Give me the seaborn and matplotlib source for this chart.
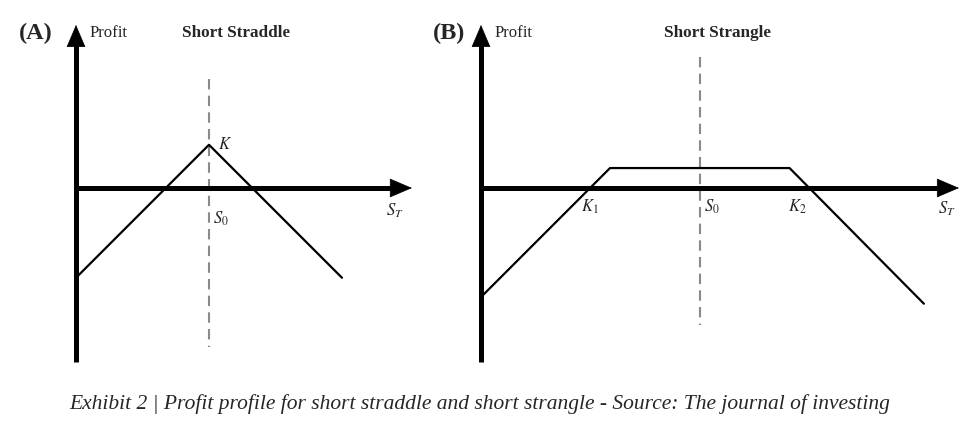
import matplotlib
matplotlib.use("Agg")
import matplotlib.pyplot as plt
import numpy as np
import pandas as pd
import seaborn as sns

# payoff vertices (S_T, profit) for each strategy
straddle_st = [0, 100, 200]
straddle_profit = [-67.5, 32.5, -67.5]
straddle_s0 = 100

strangle_st = [0, 97, 232, 333]
strangle_profit = [-82, 15, 15, -87]
strangle_s0 = 164.5

caption = ("Exhibit 2 | Profit profile for short straddle and short strangle"
           " - Source: The journal of investing")

sns.set_style("white")
plt.rcParams['font.family'] = ['Liberation Serif', 'DejaVu Serif']
plt.rcParams['mathtext.fontset'] = 'stix'

W, H = 980, 434
fig = plt.figure(figsize=(W / 100, H / 100), dpi=100)
SC = 1.33  # px per data unit


def px(x, y):
    return x / W, 1 - y / H


def make_axes(box, origin):
    x0, y0, x1, y1 = box
    ax = fig.add_axes([x0 / W, 1 - y1 / H, (x1 - x0) / W, (y1 - y0) / H])
    ax.set_xlim((x0 - origin[0]) / SC, (x1 - origin[0]) / SC)
    ax.set_ylim((origin[1] - y1) / SC, (origin[1] - y0) / SC)
    ax.axis('off')
    return ax


def draw_frame(ax, x_end, y_top=122.6, y_bot=-130.8):
    head = dict(arrowstyle='-|>,head_length=0.75,head_width=0.32', lw=0.5,
                color='black', mutation_scale=20, shrinkA=0, shrinkB=0)
    ax.plot([0, 0], [y_bot, y_top - 6], color='black', lw=3.6,
            solid_capstyle='butt', zorder=4)
    ax.plot([0, x_end - 6], [0, 0], color='black', lw=3.6,
            solid_capstyle='butt', zorder=4)
    ax.annotate('', xy=(0, y_top), xytext=(0, y_top - 8), arrowprops=head, zorder=5)
    ax.annotate('', xy=(x_end, 0), xytext=(x_end - 8, 0), arrowprops=head, zorder=5)


# Panel A
axA = make_axes((60, 15, 425, 370), (76, 188))
axA.plot([straddle_s0, straddle_s0], [82, -119.5], ls=(0, (5, 3)),
         color='#8a8a8a', lw=1.5, zorder=1)
draw_frame(axA, 252.6)
sns.lineplot(x=straddle_st, y=straddle_profit, ax=axA, color='black',
             lw=1.6, zorder=3, sort=False)
axA.text(straddle_st[1] + 7, straddle_profit[1], '$K$', fontsize=12,
         ha='left', va='center')
axA.text(straddle_s0 + 3, -23, '$S_0$', fontsize=12, ha='left', va='center')
axA.text(240, -17, '$S_T$', fontsize=12, ha='center', va='center')

# Panel B
axB = make_axes((465, 15, 975, 370), (481, 188))
axB.plot([strangle_s0, strangle_s0], [98.5, -103], ls=(0, (5, 3)),
         color='#8a8a8a', lw=1.5, zorder=1)
draw_frame(axB, 359.4)
sns.lineplot(x=strangle_st, y=strangle_profit, ax=axB, color='black',
             lw=1.6, zorder=3, sort=False)
axB.text(82, -14, '$K_1$', fontsize=12, ha='center', va='center')
axB.text(strangle_s0 + 3, -14, '$S_0$', fontsize=12, ha='left', va='center')
axB.text(237.6, -14, '$K_2$', fontsize=12, ha='center', va='center')
axB.text(350, -16, '$S_T$', fontsize=12, ha='center', va='center')

# headings
fig.text(*px(36, 33), '(A)', fontsize=17.5, fontweight='bold', ha='center', va='center')
fig.text(*px(90, 33), 'Profit', fontsize=12, ha='left', va='center')
fig.text(*px(236, 33), 'Short Straddle', fontsize=12.3, fontweight='bold',
         ha='center', va='center')
fig.text(*px(449, 33), '(B)', fontsize=17.5, fontweight='bold', ha='center', va='center')
fig.text(*px(495, 33), 'Profit', fontsize=12, ha='left', va='center')
fig.text(*px(717, 33), 'Short Strangle', fontsize=12.3, fontweight='bold',
         ha='center', va='center')

fig.text(*px(480, 404), caption, fontsize=15.5, fontstyle='italic',
         ha='center', va='center')

fig.savefig('out.png', dpi=100, facecolor='white')
